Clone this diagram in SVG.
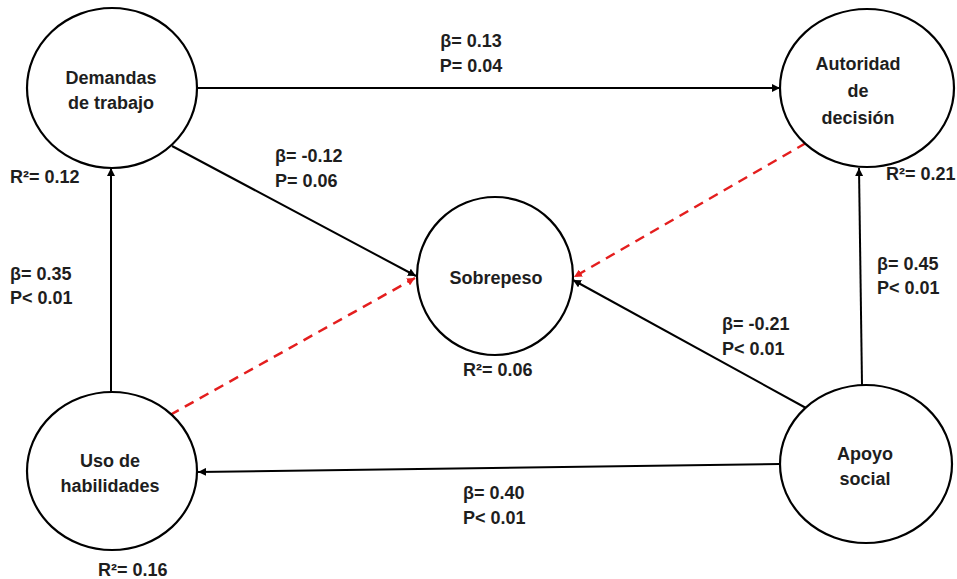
<svg xmlns="http://www.w3.org/2000/svg" width="957" height="579" viewBox="0 0 957 579">
<style>
.node{fill:#fff;stroke:#000;stroke-width:2.2}
.t{font-family:"Liberation Sans",Arial,sans-serif;font-weight:bold;font-size:18px;fill:#1e1e1e}
.c{text-anchor:middle}
.e{stroke:#000;stroke-width:2;fill:none}
.d{stroke:#e41e1e;stroke-width:2.5;fill:none;stroke-dasharray:10 7}
</style>
<defs>
<marker id="ab" viewBox="0 0 10 10" refX="10" refY="5" markerWidth="8" markerHeight="8" markerUnits="userSpaceOnUse" orient="auto"><path d="M0,0 L10,5 L0,10 z" fill="#000"/></marker>
<marker id="ar" viewBox="0 0 10 10" refX="10" refY="5" markerWidth="8" markerHeight="8" markerUnits="userSpaceOnUse" orient="auto"><path d="M0,0 L10,5 L0,10 z" fill="#e41e1e"/></marker>
</defs>
<rect width="957" height="579" fill="#fff"/>
<g id="connectors">
<line class="e" x1="198" y1="88" x2="780" y2="88" marker-end="url(#ab)"/>
<line class="e" x1="172" y1="146" x2="416" y2="276" marker-end="url(#ab)"/>
<line class="e" x1="111" y1="393" x2="111" y2="168" marker-end="url(#ab)"/>
<line class="d" x1="170" y1="415" x2="415" y2="278" marker-end="url(#ar)"/>
<line class="d" x1="806" y1="143" x2="574" y2="277" marker-end="url(#ar)"/>
<line class="e" x1="806" y1="408" x2="573" y2="280" marker-end="url(#ab)"/>
<line class="e" x1="862" y1="385" x2="859" y2="168" marker-end="url(#ab)"/>
<line class="e" x1="780" y1="464" x2="198" y2="472" marker-end="url(#ab)"/>
</g>
<g id="demandas">
<ellipse class="node" cx="112" cy="88" rx="85" ry="80"/>
<text class="t c" x="111" y="84">Demandas</text>
<text class="t c" x="111" y="109">de trabajo</text>
<text class="t" x="10" y="183">R²= 0.12</text>
</g>
<g id="autoridad">
<ellipse class="node" cx="867" cy="88" rx="87" ry="79"/>
<text class="t c" x="858" y="70">Autoridad</text>
<text class="t c" x="858" y="97">de</text>
<text class="t c" x="858" y="124">decisión</text>
<text class="t" x="886" y="180">R²= 0.21</text>
</g>
<g id="sobrepeso">
<ellipse class="node" cx="495" cy="276" rx="78" ry="79"/>
<text class="t c" x="496" y="284">Sobrepeso</text>
<text class="t" x="463" y="376">R²= 0.06</text>
</g>
<g id="uso">
<ellipse class="node" cx="112" cy="471" rx="85" ry="79"/>
<text class="t c" x="110" y="467">Uso de</text>
<text class="t c" x="110" y="492">habilidades</text>
<text class="t" x="98" y="576">R²= 0.16</text>
</g>
<g id="apoyo">
<ellipse class="node" cx="866" cy="464" rx="86" ry="79"/>
<text class="t c" x="865" y="460">Apoyo</text>
<text class="t c" x="865" y="485">social</text>
</g>
<g id="labels">
<text class="t c" x="471" y="47">β= 0.13</text>
<text class="t c" x="471" y="72">P= 0.04</text>
<text class="t" x="275" y="162">β= -0.12</text>
<text class="t" x="275" y="187">P= 0.06</text>
<text class="t" x="10" y="280">β= 0.35</text>
<text class="t" x="10" y="304">P&lt; 0.01</text>
<text class="t" x="877" y="270">β= 0.45</text>
<text class="t" x="877" y="294">P&lt; 0.01</text>
<text class="t" x="722" y="330">β= -0.21</text>
<text class="t" x="722" y="355">P&lt; 0.01</text>
<text class="t" x="463" y="499">β= 0.40</text>
<text class="t" x="463" y="524">P&lt; 0.01</text>
</g>
</svg>
